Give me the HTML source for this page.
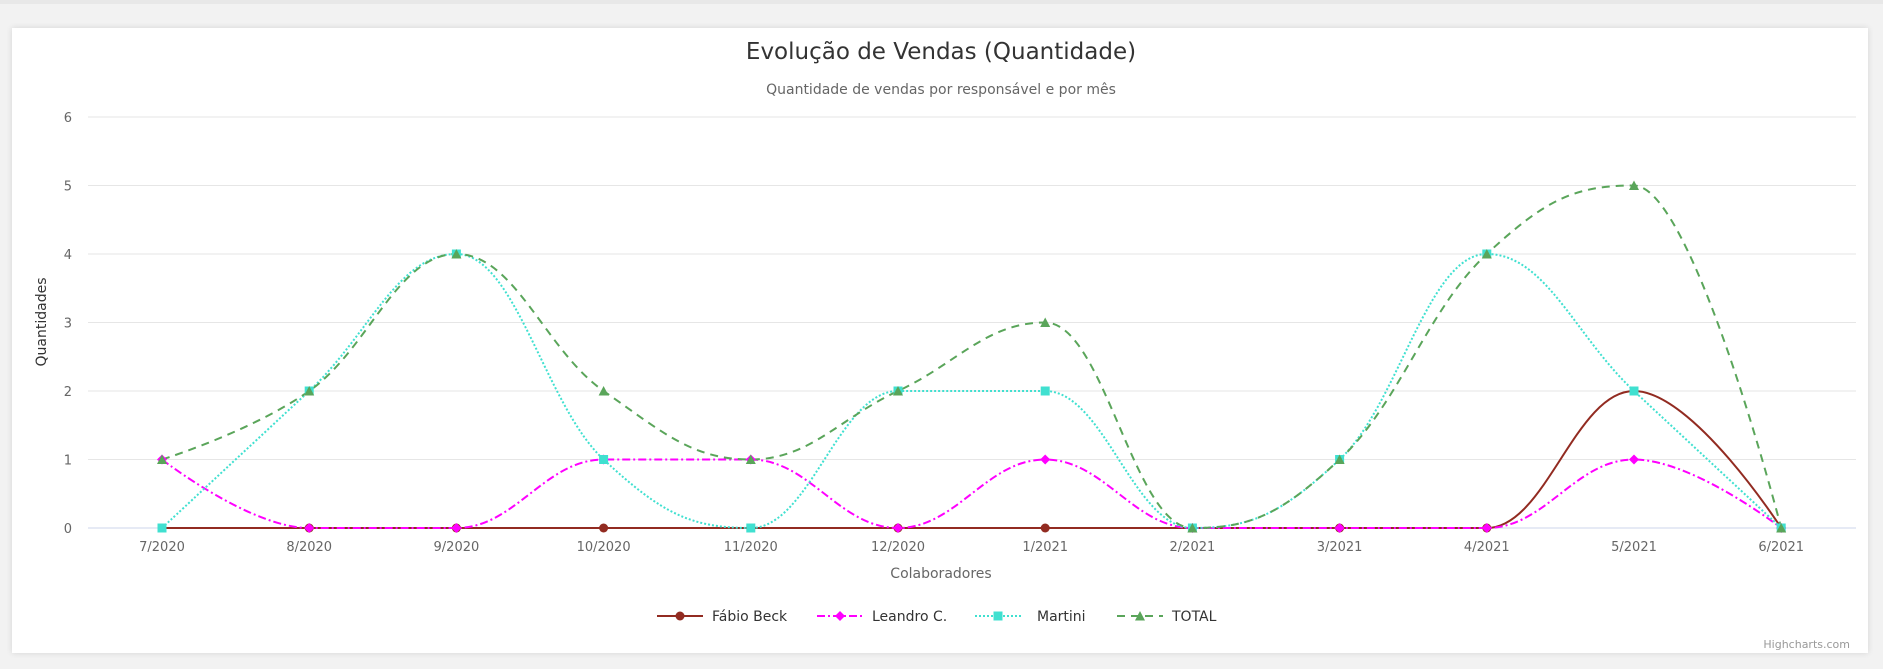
<!DOCTYPE html>
<html><head><meta charset="utf-8"><style>
html,body{margin:0;padding:0;width:1883px;height:669px;overflow:hidden;background:#f2f2f2;font-family:"DejaVu Sans","Liberation Sans",sans-serif}
#card{position:absolute;left:12px;top:28px;width:1856px;height:625px;background:#fff;box-shadow:0 0 6px rgba(0,0,0,0.12)}
svg{position:absolute;left:0;top:0}
</style></head><body>
<div style="position:absolute;left:0;top:0;width:1883px;height:4px;background:#e8e8e8"></div>
<div id="card"></div>
<svg id="s" width="1883" height="669" xmlns="http://www.w3.org/2000/svg" font-family="DejaVu Sans, Liberation Sans, sans-serif">
<text x="941" y="59" text-anchor="middle" font-size="23" fill="#333">Evolução de Vendas (Quantidade)</text>
<text x="941" y="94" text-anchor="middle" font-size="14" fill="#666">Quantidade de vendas por responsável e por mês</text>
<text transform="translate(46,322) rotate(-90)" text-anchor="middle" font-size="14" fill="#333">Quantidades</text>
<text x="941" y="578" text-anchor="middle" font-size="14" fill="#666">Colaboradores</text>
<text x="1850" y="648" text-anchor="end" font-size="11" fill="#999">Highcharts.com</text>
<g id="g"></g>
</svg>
<script>
var NS="http://www.w3.org/2000/svg",g=document.getElementById('g');
function el(t,a,txt){var e=document.createElementNS(NS,t);for(var k in a)e.setAttribute(k,a[k]);if(txt!=null)e.textContent=txt;g.appendChild(e);return e;}
var x0=162,dx=147.2,y0=528,dy=68.5;
function X(i){return x0+i*dx}function Y(v){return y0-v*dy}
for(var v=0;v<=6;v++){el('line',{x1:88,x2:1856,y1:Y(v),y2:Y(v),stroke:v==0?'#ccd6eb':'#e6e6e6','stroke-width':1});
el('text',{x:72,y:Y(v)+5,'text-anchor':'end','font-size':13,fill:'#666'},String(v));}
var cats=['7/2020','8/2020','9/2020','10/2020','11/2020','12/2020','1/2021','2/2021','3/2021','4/2021','5/2021','6/2021'];
cats.forEach(function(c,i){el('text',{x:X(i),y:551,'text-anchor':'middle','font-size':13,fill:'#666'},c)});
function spline(d){var p=d.map(function(v,i){return{x:X(i),y:Y(v)}});var s='M'+p[0].x+' '+p[0].y;
var rc=[p[0].x,p[0].y];
for(var i=1;i<p.length;i++){var c=p[i],lc=[c.x,c.y],nrc=[c.x,c.y];
if(i<p.length-1){var pr=p[i-1],nx=p[i+1];var lx=(1.5*c.x+pr.x)/2.5,ly=(1.5*c.y+pr.y)/2.5,rx=(1.5*c.x+nx.x)/2.5,ry=(1.5*c.y+nx.y)/2.5;
var corr=((ry-ly)*(rx-c.x))/(rx-lx)+c.y-ry;ly+=corr;ry+=corr;
if(ly>pr.y&&ly>c.y){ly=Math.max(pr.y,c.y);ry=2*c.y-ly}else if(ly<pr.y&&ly<c.y){ly=Math.min(pr.y,c.y);ry=2*c.y-ly}
if(ry>nx.y&&ry>c.y){ry=Math.max(nx.y,c.y);ly=2*c.y-ry}else if(ry<nx.y&&ry<c.y){ry=Math.min(nx.y,c.y);ly=2*c.y-ry}
lc=[lx,ly];nrc=[rx,ry];}
s+=' C'+rc[0]+' '+rc[1]+' '+lc[0]+' '+lc[1]+' '+c.x+' '+c.y;rc=nrc;}
return s;}
function marker(t,x,y,c){if(t=='c')el('circle',{cx:x,cy:y,r:4.5,fill:c});
else if(t=='d')el('path',{d:'M'+x+' '+(y-5)+'L'+(x+5)+' '+y+'L'+x+' '+(y+5)+'L'+(x-5)+' '+y+'Z',fill:c});
else if(t=='s')el('rect',{x:x-4.5,y:y-4.5,width:9,height:9,fill:c});
else el('path',{d:'M'+x+' '+(y-5)+'L'+(x+5)+' '+(y+4.5)+'L'+(x-5)+' '+(y+4.5)+'Z',fill:c});}
var S=[
{n:'Fábio Beck',c:'#922b21',d:[0,0,0,0,0,0,0,0,0,0,2,0],da:'',m:'c',lx:657},
{n:'Leandro C.',c:'#ff00ff',d:[1,0,0,1,1,0,1,0,0,0,1,0],da:'8 3 2 3',m:'d',lx:817},
{n:'Martini',c:'#40e0d0',d:[0,2,4,1,0,2,2,0,1,4,2,0],da:'2 2',m:'s',lx:975},
{n:'TOTAL',c:'#5aa55a',d:[1,2,4,2,1,2,3,0,1,4,5,0],da:'8 6',m:'t',lx:1117}];
S.forEach(function(s){el('path',{d:spline(s.d),fill:'none',stroke:s.c,'stroke-width':2,'stroke-dasharray':s.da});});
S.forEach(function(s){s.d.forEach(function(v,i){marker(s.m,X(i),Y(v),s.c)});
el('line',{x1:s.lx,x2:s.lx+46,y1:616,y2:616,stroke:s.c,'stroke-width':2,'stroke-dasharray':s.da});
marker(s.m,s.lx+23,616,s.c);
el('text',{x:s.lx+(s.n=='Martini'?62:55),y:621,'font-size':14,fill:'#333'},s.n);});
</script>
</body></html>
